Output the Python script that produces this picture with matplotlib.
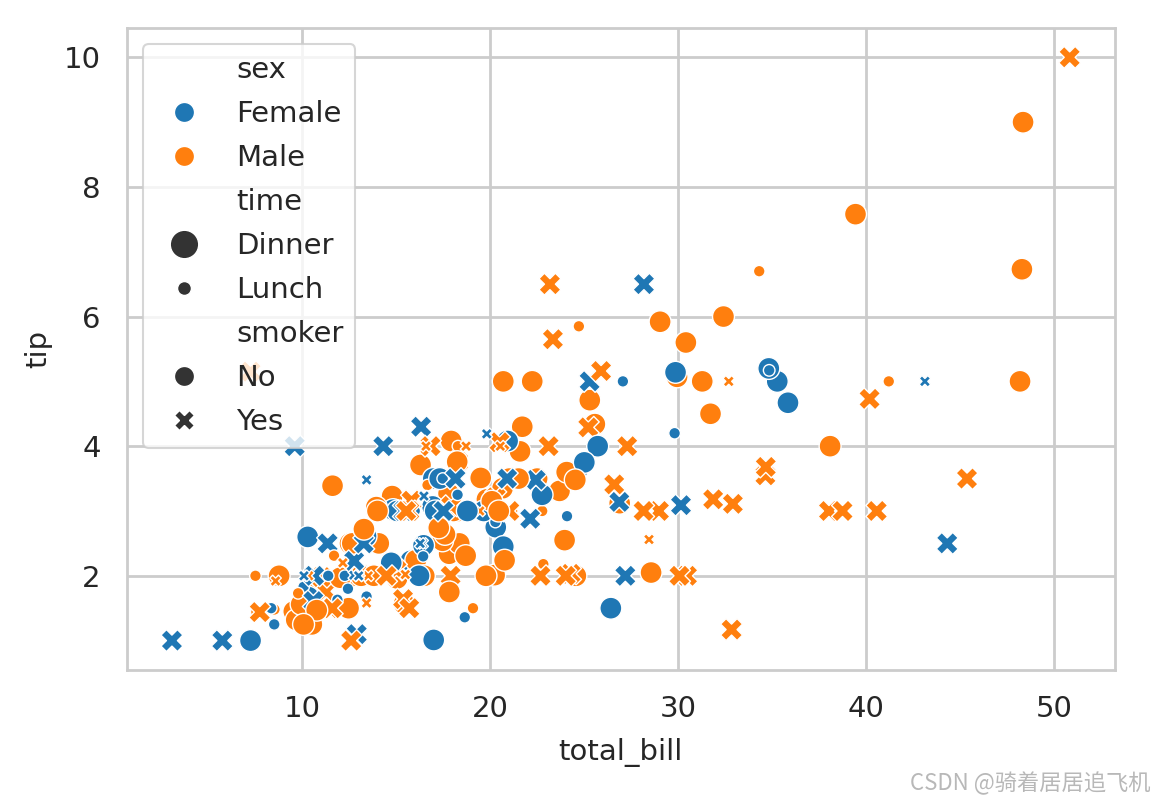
import matplotlib
matplotlib.use('Agg')
import matplotlib.pyplot as plt
import seaborn as sns
from matplotlib.lines import Line2D
from matplotlib.markers import MarkerStyle

# tips data: total bill, tip, sex (F/M), smoker (N/Y), time (D/L)
total_bill = [
    16.99, 10.34, 21.01, 23.68, 24.59, 25.29, 8.77, 26.88, 15.04, 14.78,
    10.27, 35.26, 15.42, 18.43, 14.83, 21.58, 10.33, 16.29, 16.97, 20.65,
    17.92, 20.29, 15.77, 39.42, 19.82, 17.81, 13.37, 12.69, 21.70, 19.65,
    9.55, 18.35, 15.06, 20.69, 17.78, 24.06, 16.31, 16.93, 18.69, 31.27,
    16.04, 17.46, 13.94, 9.68, 30.40, 18.29, 22.23, 32.40, 28.55, 18.04,
    12.54, 10.29, 34.81, 9.94, 25.56, 19.49, 38.01, 26.41, 11.24, 48.27,
    20.29, 13.81, 11.02, 18.29, 17.59, 20.08, 16.45, 3.07, 20.23, 15.01,
    12.02, 17.07, 26.86, 25.28, 14.73, 10.51, 17.92, 27.20, 22.76, 17.29,
    19.44, 16.66, 10.07, 32.68, 15.98, 34.83, 13.03, 18.28, 24.71, 21.16,
    28.97, 22.49, 5.75, 16.32, 22.75, 40.17, 27.28, 12.03, 21.01, 12.46,
    11.35, 15.38, 44.30, 22.42, 20.92, 15.36, 20.49, 25.21, 18.24, 14.31,
    14.00, 7.25, 38.07, 23.95, 25.71, 17.31, 29.93, 10.65, 12.43, 24.08,
    11.69, 13.42, 14.26, 15.95, 12.48, 29.80, 8.52, 14.52, 11.38, 22.82,
    19.08, 20.27, 11.17, 12.26, 18.26, 8.51, 10.33, 14.15, 16.00, 13.16,
    17.47, 34.30, 41.19, 27.05, 16.43, 8.35, 18.64, 11.87, 9.78, 7.51,
    14.07, 13.13, 17.26, 24.55, 19.77, 29.85, 48.17, 25.00, 13.39, 16.49,
    21.50, 12.66, 16.21, 13.81, 17.51, 24.52, 20.76, 31.71, 10.59, 10.63,
    50.81, 15.81, 7.25, 31.85, 16.82, 32.90, 17.89, 14.48, 9.60, 34.63,
    34.65, 23.33, 45.35, 23.17, 40.55, 20.69, 20.90, 30.46, 18.15, 23.10,
    15.69, 19.81, 28.44, 15.48, 16.58, 7.56, 10.34, 43.11, 13.00, 13.51,
    18.71, 12.74, 13.00, 16.40, 20.53, 16.47, 26.59, 38.73, 24.27, 12.76,
    30.06, 25.89, 48.33, 13.27, 28.17, 12.90, 28.15, 11.59, 7.74, 30.14,
    12.16, 13.42, 8.58, 15.98, 13.42, 16.27, 10.09, 20.45, 13.28, 22.12,
    24.01, 15.69, 11.61, 10.77, 15.53, 10.07, 12.60, 32.83, 35.83, 29.03,
    27.18, 22.67, 17.82, 18.78,
]
tip = [
    1.01, 1.66, 3.50, 3.31, 3.61, 4.71, 2.00, 3.12, 1.96, 3.23,
    1.71, 5.00, 1.57, 3.00, 3.02, 3.92, 1.67, 3.71, 3.50, 3.35,
    4.08, 2.75, 2.23, 7.58, 3.18, 2.34, 2.00, 2.00, 4.30, 3.00,
    1.45, 2.50, 3.00, 2.45, 3.27, 3.60, 2.00, 3.07, 2.31, 5.00,
    2.24, 2.54, 3.06, 1.32, 5.60, 3.00, 5.00, 6.00, 2.05, 3.00,
    2.50, 2.60, 5.20, 1.56, 4.34, 3.51, 3.00, 1.50, 1.76, 6.73,
    3.21, 2.00, 1.98, 3.76, 2.64, 3.15, 2.47, 1.00, 2.01, 2.09,
    1.97, 3.00, 3.14, 5.00, 2.20, 1.25, 3.08, 4.00, 3.00, 2.71,
    3.00, 3.40, 1.83, 5.00, 2.03, 5.17, 2.00, 4.00, 5.85, 3.00,
    3.00, 3.50, 1.00, 4.30, 3.25, 4.73, 4.00, 1.50, 3.00, 1.50,
    2.50, 3.00, 2.50, 3.48, 4.08, 1.64, 4.06, 4.29, 3.76, 4.00,
    3.00, 1.00, 4.00, 2.55, 4.00, 3.50, 5.07, 1.50, 1.80, 2.92,
    2.31, 1.68, 2.50, 2.00, 2.52, 4.20, 1.48, 2.00, 2.00, 2.18,
    1.50, 2.83, 1.50, 2.00, 3.25, 1.25, 2.00, 2.00, 2.00, 2.75,
    3.50, 6.70, 5.00, 5.00, 2.30, 1.50, 1.36, 1.63, 1.73, 2.00,
    2.50, 2.00, 2.74, 2.00, 2.00, 5.14, 5.00, 3.75, 2.61, 2.00,
    3.50, 2.50, 2.00, 2.00, 3.00, 3.48, 2.24, 4.50, 1.61, 2.00,
    10.00, 3.16, 5.15, 3.18, 4.00, 3.11, 2.00, 2.00, 4.00, 3.55,
    3.68, 5.65, 3.50, 6.50, 3.00, 5.00, 3.50, 2.00, 3.50, 4.00,
    1.50, 4.19, 2.56, 2.02, 4.00, 1.44, 2.00, 5.00, 2.00, 2.00,
    4.00, 2.01, 2.00, 2.50, 4.00, 3.23, 3.41, 3.00, 2.03, 2.23,
    2.00, 5.16, 9.00, 2.50, 6.50, 1.10, 3.00, 1.50, 1.44, 3.09,
    2.20, 3.48, 1.92, 3.00, 1.58, 2.50, 2.00, 3.00, 2.72, 2.88,
    2.00, 3.00, 3.39, 1.47, 3.00, 1.25, 1.00, 1.17, 4.67, 5.92,
    2.00, 2.00, 1.75, 3.00,
]
sex = list(
    "FMMMFMMMMM" "MFMMFMFMFM" "MFFMMMMMMF" "MMFFMMMFMM"
    "MMMMMMMMMM" "MFFMMMMFMM" "MMMMMMFFMM" "MFFFFMMMMM"
    "MMFMMFMMMM" "MMFFFMMMMM" "FFFFFMMMMF" "MFMMFFMFFF"
    "MFMMFFMFFM" "MFFFFFFFMF" "FMMFFFFFMM" "MMMMMFMFFM"
    "MMFMFMMMFF" "MMMMMMMMFM" "MMMMMMFMFM" "MFMMMMMFFM"
    "MFFFMFMMMF" "MMMFFFMMMF" "MFMFMFFMMF" "MMMMMMMMFM"
    "FMMF"
)
smoker = list(
    "NNNNNNNNNN" "NNNNNNNNNN" "NNNNNNNNNN" "NNNNNNNNNN"
    "NNNNNNNNNN" "NNNNNNYNYN" "YYYYNNNYNY" "NNYYNNYNNN"
    "YNNYNNNNNN" "YNYYNYYYYN" "YYYYNYYYNY" "NNNNNNNNNN"
    "NNNNNNNNNN" "NNNNNNNNYN" "NNNNNNNNNN" "NNNNNNNNNN"
    "NNNNYNNNYY" "YYYYYYYYYY" "YYYYYNYYYY" "YYYYYNYYYY"
    "YYYYYYYYYY" "YYNYYYYYYY" "YYYNYYYNNY" "YYNNYNYYNN"
    "YYNN"
)
time = list(
    "DDDDDDDDDD" "DDDDDDDDDD" "DDDDDDDDDD" "DDDDDDDDDD"
    "DDDDDDDDDD" "DDDDDDDDDD" "DDDDDDDDDD" "DDDDDDDLLL"
    "LLLLLLLLLL" "DDDDDDDDDD" "DDDDDDDDDD" "DDDDDDDLLL"
    "LLLLLLLLLL" "LLLLLLLLLL" "LLLLLLLLLL" "DDDDDDDDDD"
    "DDDDDDDDDD" "DDDDDDDDDD" "DDDDDDDDDD" "DLLLLLLLLL"
    "LLLLLLDDDD" "DDDDDDDDDD" "LLLLLLLDDD" "DDDDDDDDDD"
    "DDDD"
)

sex_colors = {'F': '#1f77b4', 'M': '#ff7f0e'}
time_sizes = {'D': 250, 'L': 70}
smoker_markers = {'N': 'o', 'Y': 'X'}

sns.set_style('whitegrid')
plt.rcParams['font.family'] = ['DejaVu Sans']
fs = 21

fig = plt.figure(figsize=(11.55, 8.05), dpi=100)
ax = fig.add_axes([0.110, 0.168, 0.855, 0.797])

colors = [sex_colors[s] for s in sex]
sizes = [time_sizes[t] for t in time]
points = ax.scatter(total_bill, tip, c=colors, s=sizes,
                    edgecolor='white', linewidth=1.0, marker='o')
paths = []
for sm in smoker:
    m = MarkerStyle(smoker_markers[sm])
    paths.append(m.get_path().transformed(m.get_transform()))
points.set_paths(paths)

ax.set_xlabel('total_bill', fontsize=fs, color='.15', labelpad=11)
ax.set_ylabel('tip', fontsize=fs, color='.15', labelpad=8)
ax.set_xticks([10, 20, 30, 40, 50])
ax.set_yticks([2, 4, 6, 8, 10])
ax.tick_params(axis='x', labelsize=fs, labelcolor='.15', length=0, pad=18)
ax.tick_params(axis='y', labelsize=fs, labelcolor='.15', length=0, pad=19)
ax.grid(color='.8', linewidth=2.0)
for sp in ax.spines.values():
    sp.set_color('.8')
    sp.set_linewidth(2.0)

# legend with subtitles as blank entries
dark = '.2'
blank = Line2D([], [], linestyle='', marker='')
handles = [
    blank,
    Line2D([], [], linestyle='', marker='o', color=sex_colors['F'], markersize=14.5, markeredgecolor='white'),
    Line2D([], [], linestyle='', marker='o', color=sex_colors['M'], markersize=14.5, markeredgecolor='white'),
    blank,
    Line2D([], [], linestyle='', marker='o', color=dark, markersize=20.5, markeredgecolor='white'),
    Line2D([], [], linestyle='', marker='o', color=dark, markersize=10, markeredgecolor='white'),
    blank,
    Line2D([], [], linestyle='', marker='o', color=dark, markersize=14.5, markeredgecolor='white'),
    Line2D([], [], linestyle='', marker='X', color=dark, markersize=14.5, markeredgecolor='white'),
]
labels = ['sex', 'Female', 'Male', 'time', 'Dinner', 'Lunch', 'smoker', 'No', 'Yes']
leg = ax.legend(handles, labels, loc='upper left', fontsize=fs,
                labelspacing=0.55, borderaxespad=0.55, framealpha=0.8)
for t in leg.get_texts():
    t.set_color('.15')
leg.get_frame().set_edgecolor('.8')
leg.get_frame().set_linewidth(1.5)

fig.text(0.996, 0.012, 'CSDN @骑着居居追飞机', ha='right', va='bottom',
         fontsize=16, color='#b8b8b8', family=['Noto Sans CJK SC', 'DejaVu Sans'])

fig.savefig('out.png', dpi=100)
